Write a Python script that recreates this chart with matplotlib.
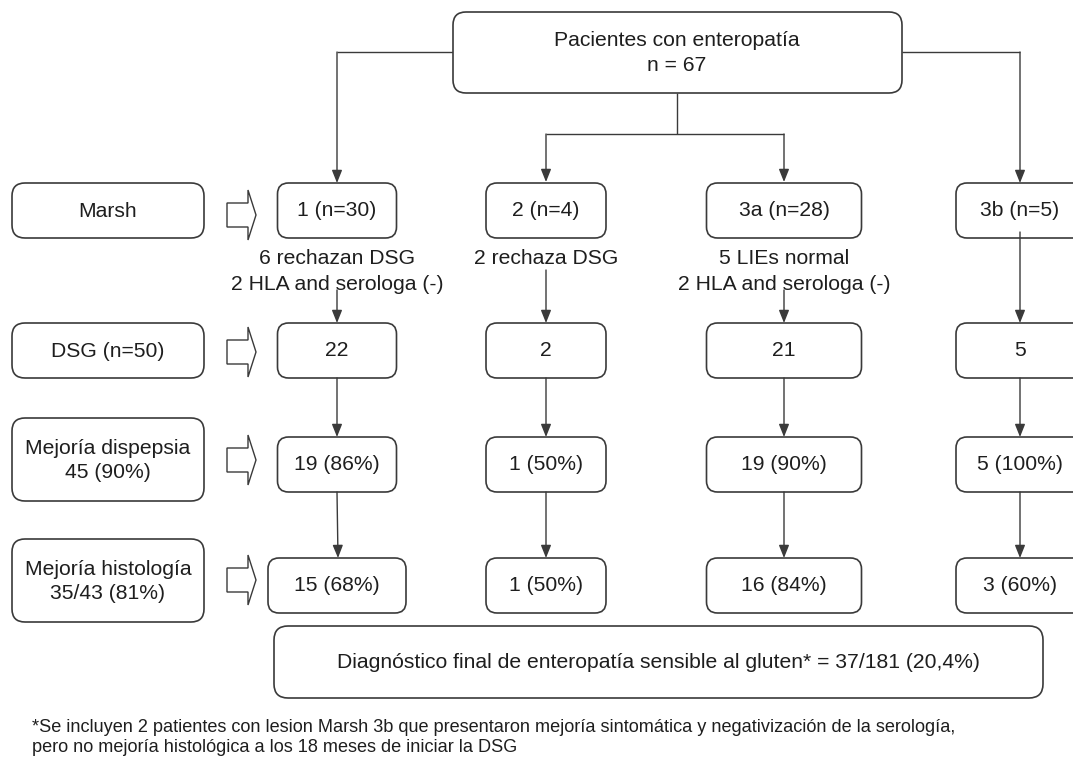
import matplotlib
matplotlib.use("Agg")
import matplotlib.pyplot as plt
from matplotlib.patches import FancyBboxPatch, Polygon

plt.rcParams['font.family'] = ['Liberation Sans', 'DejaVu Sans']

# ---------------- data ----------------
top_label = ["Pacientes con enteropatía", "n = 67"]
row_labels = ["Marsh", "DSG (n=50)", "Mejoría dispepsia\n45 (90%)", "Mejoría histología\n35/43 (81%)"]
marsh_grades = ["1", "2", "3a", "3b"]
marsh_n = [30, 4, 28, 5]
excluded_notes = [["6 rechazan DSG", "2 HLA and serologa (-)"],
                  ["2 rechaza DSG"],
                  ["5 LIEs normal", "2 HLA and serologa (-)"],
                  []]
dsg_n = [22, 2, 21, 5]
dispepsia_n = [19, 1, 19, 5]
dispepsia_pct = [86, 50, 90, 100]
histo_n = [15, 1, 16, 3]
histo_pct = [68, 50, 84, 60]
final_label = "Diagnóstico final de enteropatía sensible al gluten* = 37/181 (20,4%)"
footnote = ["*Se incluyen 2 patientes con lesion Marsh 3b que presentaron mejoría sintomática y negativización de la serología,",
            "pero no mejoría histológica a los 18 meses de iniciar la DSG"]

# ---------------- layout (pixels) ----------------
W, H = 1073, 759
fig = plt.figure(figsize=(W / 100, H / 100), dpi=100)
ax = fig.add_axes([0, 0, 1, 1])
ax.set_xlim(0, W)
ax.set_ylim(H, 0)
ax.axis('off')

EC = '#3a3a3a'
TC = '#1e1e1e'
FS = 15.2
FS_NOTE = 13.1
LW = 1.0

col_x = [337, 546, 784, 1020]
col_w = [119, 120, 155, 128]
col_w_last = [138, 120, 155, 128]
rows_col = [(183, 238), (323, 378), (437, 492), (558, 613)]
rows_left = [(183, 238), (323, 378), (418, 501), (539, 622)]
hollow_yc = [215, 352, 460, 580]


def rbox(x0, y0, x1, y1, r=11):
    p = FancyBboxPatch((x0, y0), x1 - x0, y1 - y0,
                       boxstyle=f"round,pad=0,rounding_size={r}",
                       fc='white', ec=EC, lw=1.2, zorder=2)
    ax.add_patch(p)


def arrow(x0, y0, x1, y1):
    ax.annotate('', xy=(x1, y1), xytext=(x0, y0),
                arrowprops=dict(arrowstyle='-|>,head_length=0.55,head_width=0.22',
                                color=EC, lw=LW, shrinkA=0, shrinkB=0,
                                mutation_scale=14), zorder=3)


def line(xs, ys):
    ax.plot(xs, ys, color=EC, lw=LW, zorder=1, solid_capstyle='butt')


# top box
rbox(453, 12, 902, 93, r=13)
ax.text(677, 53, "\n".join(top_label), ha='center', va='center', fontsize=FS,
        color=TC, linespacing=1.38, zorder=4)

# connectors from top box
line([453, col_x[0]], [52, 52])
arrow(col_x[0], 52, col_x[0], 183)
line([902, col_x[3]], [52, 52])
arrow(col_x[3], 52, col_x[3], 183)
line([677, 677], [93, 134])
line([col_x[1], col_x[2]], [134, 134])
arrow(col_x[1], 134, col_x[1], 182)
arrow(col_x[2], 134, col_x[2], 182)

# left category boxes + hollow arrows
for (y0, y1), lab, yc in zip(rows_left, row_labels, hollow_yc):
    rbox(12, y0, 204, y1, r=13)
    ax.text(108, (y0 + y1) / 2 + 1, lab, ha='center', va='center', fontsize=FS,
            color=TC, linespacing=1.38, zorder=4)
    pts = [(227, yc - 12), (248, yc - 12), (248, yc - 25), (256, yc),
           (248, yc + 25), (248, yc + 12), (227, yc + 12)]
    ax.add_patch(Polygon(pts, closed=True, fc='white', ec=EC, lw=1.0, zorder=2))

# column boxes
row_texts = [
    [f"{g} (n={n})" for g, n in zip(marsh_grades, marsh_n)],
    [f"{n}" for n in dsg_n],
    [f"{n} ({p}%)" for n, p in zip(dispepsia_n, dispepsia_pct)],
    [f"{n} ({p}%)" for n, p in zip(histo_n, histo_pct)],
]
for ri, ((y0, y1), texts) in enumerate(zip(rows_col, row_texts)):
    widths = col_w_last if ri == 3 else col_w
    for ci, (cx, w, t) in enumerate(zip(col_x, widths, texts)):
        rbox(cx - w / 2, y0, cx + w / 2, y1, r=11)
        ax.text(cx, (y0 + y1) / 2, t, ha='center', va='center', fontsize=FS,
                color=TC, zorder=4)

# exclusion notes
for cx, notes in zip(col_x, excluded_notes):
    for k, note in enumerate(notes):
        ax.text(cx, 258 + 27 * k, note, ha='center', va='center', fontsize=FS,
                color=TC, zorder=4)

# vertical arrows between rows
start_row2 = [290, 270, 290, 232]
for cx, s in zip(col_x, start_row2):
    arrow(cx, s, cx, 323)
    arrow(cx, 378, cx, 437)
    arrow(cx, 492, cx + (1 if cx == col_x[0] else 0), 558)

# final box
rbox(274, 626, 1043, 698, r=14)
ax.text(658.5, 663, final_label, ha='center', va='center', fontsize=FS,
        color=TC, zorder=4)

# footnote
for k, t in enumerate(footnote):
    ax.text(32, 727 + 20 * k, t, ha='left', va='center', fontsize=FS_NOTE,
            color=TC, zorder=4)

fig.savefig("out.png", dpi=100, facecolor='white')
